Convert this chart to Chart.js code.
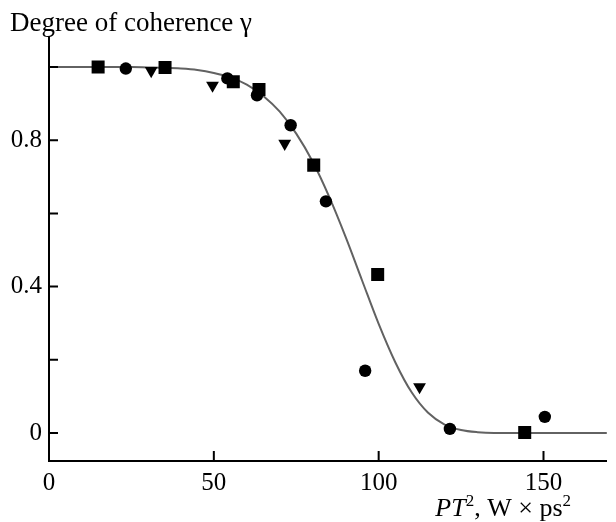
<!DOCTYPE html>
<html>
<head>
<meta charset="utf-8">
<script src="https://cdn.jsdelivr.net/npm/chart.js@4/dist/chart.umd.min.js"></script>
<style>
  body { margin: 0; background: #fff; }
</style>
</head>
<body>
<canvas id="coherenceChart" width="616" height="522"></canvas>
<script>
// fitted curve, every 5 units
var curveX = [0, 5, 10, 15, 20, 25, 30, 35, 40, 45, 50, 55, 60, 65, 70, 75, 80, 85,
  90, 95, 100, 105, 110, 115, 120, 125, 130, 135, 140, 145, 150, 155, 160, 165, 170];
var curveY = [1, 1, 1, 1, 1, 1, 0.999, 0.998, 0.996, 0.992, 0.984, 0.972, 0.952, 0.921,
  0.878, 0.818, 0.741, 0.645, 0.535, 0.416, 0.298, 0.194, 0.111, 0.055, 0.023, 0.008,
  0.002, 0, 0, 0, 0, 0, 0, 0, 0];

// measured points, three marker kinds
var squareX = [14.9, 35.2, 55.9, 63.7, 80.3, 99.7, 144.3];
var squareY = [1.0, 0.999, 0.960, 0.939, 0.732, 0.433, 0.001];
var circleX = [23.3, 54.1, 63.1, 73.3, 84.0, 95.9, 121.6, 150.4];
var circleY = [0.996, 0.969, 0.923, 0.841, 0.633, 0.170, 0.011, 0.044];
var triangleX = [31.0, 49.6, 71.5, 112.4];
var triangleY = [0.990, 0.950, 0.791, 0.126];

var xTicks = [0, 50, 100, 150];
var yTicks = [0, 0.2, 0.4, 0.6, 0.8, 1.0];
var yTickLabels = ['0', '', '0.4', '', '0.8', ''];

function toPoints(xs, ys) {
  return xs.map(function (x, i) { return { x: x, y: ys[i] }; });
}

var serif = '"Liberation Serif", "Times New Roman", serif';

// inward tick marks and the two axis titles
var axisExtras = {
  id: 'axisExtras',
  afterDraw: function (chart) {
    var c = chart.ctx;
    var xs = chart.scales.x;
    var ys = chart.scales.y;
    var a = chart.chartArea;
    c.save();
    c.strokeStyle = '#000';
    c.lineWidth = 2;
    c.beginPath();
    xTicks.forEach(function (v) {
      if (v === 0) return;
      var px = xs.getPixelForValue(v);
      c.moveTo(px, a.bottom);
      c.lineTo(px, a.bottom - 10);
    });
    yTicks.forEach(function (v) {
      var py = ys.getPixelForValue(v);
      c.moveTo(a.left, py);
      c.lineTo(a.left + 9, py);
    });
    c.stroke();

    c.fillStyle = '#000';
    c.textBaseline = 'alphabetic';
    c.textAlign = 'left';
    c.font = '27px ' + serif;
    c.fillText('Degree of coherence γ', 10, 31);

    // x title: PT², W × ps²
    var parts = [
      { t: 'PT', f: 'italic 26px ' + serif, dy: 0 },
      { t: '2', f: '17px ' + serif, dy: -10 },
      { t: ', W × ps', f: '26px ' + serif, dy: 0 },
      { t: '2', f: '17px ' + serif, dy: -10 }
    ];
    var total = 0;
    parts.forEach(function (p) { c.font = p.f; p.w = c.measureText(p.t).width; total += p.w; });
    var x = 571 - total;
    parts.forEach(function (p) {
      c.font = p.f;
      c.fillText(p.t, x, 516 + p.dy);
      x += p.w;
    });
    c.restore();
  }
};

var ctx = document.getElementById('coherenceChart').getContext('2d');

new Chart(ctx, {
  type: 'scatter',
  data: {
    datasets: [
      {
        label: 'squares',
        data: toPoints(squareX, squareY),
        pointStyle: 'rect',
        pointRadius: 9.2,
        backgroundColor: '#000',
        borderColor: '#000',
        borderWidth: 0
      },
      {
        label: 'circles',
        data: toPoints(circleX, circleY),
        pointStyle: 'circle',
        pointRadius: 6.2,
        backgroundColor: '#000',
        borderColor: '#000',
        borderWidth: 0
      },
      {
        label: 'triangles',
        data: toPoints(triangleX, triangleY),
        pointStyle: 'triangle',
        pointRotation: 180,
        pointRadius: 7.4,
        backgroundColor: '#000',
        borderColor: '#000',
        borderWidth: 0
      },
      {
        label: 'fit',
        type: 'line',
        data: toPoints(curveX, curveY),
        showLine: true,
        pointRadius: 0,
        borderColor: '#626262',
        borderWidth: 2,
        cubicInterpolationMode: 'monotone',
        fill: false
      }
    ]
  },
  options: {
    responsive: false,
    animation: false,
    events: [],
    layout: { padding: { top: 37, left: 0, right: 0, bottom: 0 } },
    plugins: {
      legend: { display: false },
      tooltip: { enabled: false }
    },
    scales: {
      x: {
        type: 'linear',
        min: 0,
        max: 169.2,
        grid: { display: false, drawTicks: false },
        border: { display: true, color: '#000', width: 2 },
        afterBuildTicks: function (scale) {
          scale.ticks = xTicks.map(function (v) { return { value: v }; });
        },
        afterFit: function (scale) { scale.height = 61; },
        ticks: {
          color: '#000',
          padding: 7,
          maxRotation: 0,
          font: { family: serif, size: 25 }
        }
      },
      y: {
        type: 'linear',
        min: -0.0767,
        max: 1.0822,
        grid: { display: false, drawTicks: false },
        border: { display: true, color: '#000', width: 2 },
        afterBuildTicks: function (scale) {
          scale.ticks = yTicks.map(function (v) { return { value: v }; });
        },
        afterFit: function (scale) { scale.width = 49; },
        ticks: {
          color: '#000',
          padding: 7,
          font: { family: serif, size: 25 },
          callback: function (value, index) { return yTickLabels[index]; }
        }
      }
    }
  },
  plugins: [axisExtras]
});
</script>
</body>
</html>
